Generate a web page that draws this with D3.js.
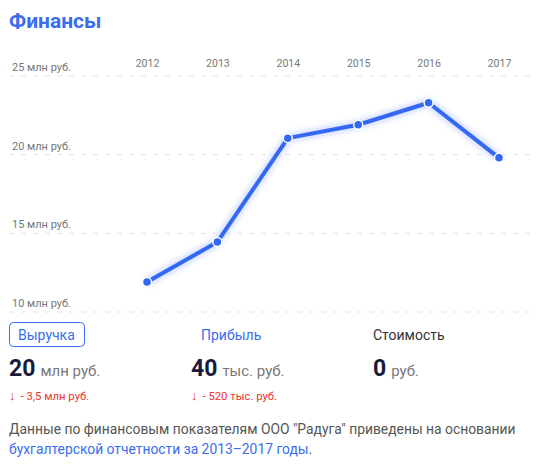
<!DOCTYPE html>
<html>
<head>
<meta charset="utf-8">
<script src="https://cdn.jsdelivr.net/npm/d3@7"></script>
<style>
  html, body { margin: 0; padding: 0; background: #fff; }
  svg { display: block; font-family: Roboto, "Noto Sans", sans-serif; }
</style>
</head>
<body>
<svg id="chart" width="549" height="466"></svg>
<script>
// Revenue by year, млн руб.
const years = ["2012", "2013", "2014", "2015", "2016", "2017"];
const revenue = [11.9, 14.45, 21.05, 21.9, 23.3, 19.8];
const yTicks = [10, 15, 20, 25];
const yTickLabels = ["10 млн руб.", "15 млн руб.", "20 млн руб.", "25 млн руб."];

// Summary figures below the chart
const metricNames = ["Выручка", "Прибыль", "Стоимость"];
const metricValues = ["20", "40", "0"];
const metricUnits = ["млн руб.", "тыс. руб.", "руб."];
const metricChanges = ["- 3,5 млн руб.", "- 520 тыс. руб.", ""];

const svg = d3.select("#chart");
const blue = "#3468f2";

// Title
svg.append("text")
  .attr("x", 9).attr("y", 28)
  .attr("font-size", 21).attr("font-weight", 700)
  .attr("fill", "#3a6df0")
  .text("Финансы");

const x = d3.scalePoint().domain(years).range([147, 499]);
const y = d3.scaleLinear().domain([10, 25]).range([312, 76]);

// Horizontal dashed gridlines with labels above them
const grid = svg.append("g");
yTicks.forEach((t, i) => {
  grid.append("line")
    .attr("x1", 9).attr("x2", 533)
    .attr("y1", y(t)).attr("y2", y(t))
    .attr("stroke", "#e2e2e2").attr("stroke-width", 1)
    .attr("stroke-dasharray", "5,7");
  grid.append("text")
    .attr("x", 12).attr("y", y(t) - 5)
    .attr("font-size", 11).attr("fill", "#777")
    .text(yTickLabels[i]);
});

// Year labels along the top
const xAxis = d3.axisTop(x).tickSize(0).tickPadding(0);
const xg = svg.append("g").attr("transform", "translate(0,67)").call(xAxis);
xg.select(".domain").remove();
xg.selectAll("text")
  .attr("font-size", 10.5).attr("fill", "#777")
  .attr("font-family", "Roboto, sans-serif");

// Glow behind the line
const defs = svg.append("defs");
const f = defs.append("filter").attr("id", "glow")
  .attr("x", "-20%").attr("y", "-20%").attr("width", "140%").attr("height", "140%");
f.append("feGaussianBlur").attr("stdDeviation", 3);

const line = d3.line().x((d, i) => x(years[i])).y(d => y(d));

svg.append("path")
  .datum(revenue)
  .attr("d", line)
  .attr("fill", "none")
  .attr("stroke", "#9fb6ff").attr("stroke-width", 7)
  .attr("stroke-opacity", 0.6)
  .attr("filter", "url(#glow)");

svg.append("path")
  .datum(revenue)
  .attr("d", line)
  .attr("fill", "none")
  .attr("stroke", blue).attr("stroke-width", 4)
  .attr("stroke-linejoin", "round");

svg.selectAll("circle.pt")
  .data(revenue)
  .enter().append("circle")
  .attr("class", "pt")
  .attr("cx", (d, i) => x(years[i]))
  .attr("cy", d => y(d))
  .attr("r", 4.5)
  .attr("fill", blue)
  .attr("stroke", "#fff").attr("stroke-width", 1.5);

// Summary block
const colX = [9, 191, 373];
const nameX = [18, 201, 373];

// Active tab box
svg.append("rect")
  .attr("x", 9.5).attr("y", 322.5)
  .attr("width", 75).attr("height", 24)
  .attr("rx", 4)
  .attr("fill", "#fff").attr("stroke", "#3a6df0").attr("stroke-width", 1);

metricNames.forEach((name, i) => {
  svg.append("text")
    .attr("x", nameX[i]).attr("y", 340)
    .attr("font-size", 14)
    .attr("fill", i === 2 ? "#333" : "#3a6df0")
    .text(name);

  const t = svg.append("text")
    .attr("x", colX[i]).attr("y", 376);
  t.append("tspan")
    .attr("font-size", 23).attr("font-weight", 700).attr("fill", "#161a3b")
    .text(metricValues[i]);
  t.append("tspan")
    .attr("dx", 5)
    .attr("font-size", 15).attr("fill", "#777")
    .text(metricUnits[i]);

  if (metricChanges[i]) {
    const c = svg.append("text")
      .attr("x", colX[i]).attr("y", 400)
      .attr("fill", "#f0322d");
    c.append("tspan").attr("font-size", 13).text("↓");
    c.append("tspan").attr("dx", 5).attr("font-size", 11.3).text(metricChanges[i]);
  }
});

// Footnote
svg.append("text")
  .attr("x", 9).attr("y", 434)
  .attr("font-size", 13.85).attr("fill", "#555")
  .text("Данные по финансовым показателям ООО \"Радуга\" приведены на основании");
const fn = svg.append("text")
  .attr("x", 9).attr("y", 454)
  .attr("font-size", 13.85);
fn.append("tspan").attr("fill", "#3a6df0").text("бухгалтерской отчетности за 2013–2017 годы");
fn.append("tspan").attr("fill", "#555").text(".");
</script>
</body>
</html>
